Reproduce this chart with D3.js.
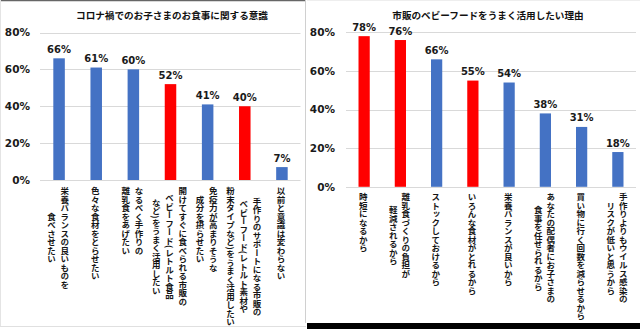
<!DOCTYPE html>
<html><head><meta charset="utf-8">
<script src="https://cdn.jsdelivr.net/npm/d3@7/dist/d3.min.js"></script>
<style>
html,body{margin:0;padding:0;background:#fff;}
svg{display:block;}
</style></head>
<body>
<svg id="chart" width="640" height="329"></svg>
<script>
// ---- Data ----
const leftTitle = "コロナ禍でのお子さまのお食事に関する意識";
const leftCategories = [
  "栄養バランスの良いものを\n食べさせたい",
  "色々な食材をとらせたい",
  "なるべく手作りの\n離乳食をあげたい",
  "開けてすぐに食べられる市販の\nベビーフード(レトルト食品\nなど)をうまく活用したい",
  "免疫力が高まりそうな\n成分を摂らせたい",
  "手作りのサポートになる市販の\nベビーフード(レトルト素材や\n粉末タイプなど)をうまく活用したい",
  "以前と意識は変わらない"
];
const leftValues = [66, 61, 60, 52, 41, 40, 7];
const leftHighlighted = [false, false, false, true, false, true, false];

const rightTitle = "市販のベビーフードをうまく活用したい理由";
const rightCategories = [
  "時短になるから",
  "離乳食づくりの負担が\n軽減されるから",
  "ストックしておけるから",
  "いろんな食材がとれるから",
  "栄養バランスが良いから",
  "あなたの配偶者にお子さまの\n食事を任せられるから",
  "買い物に行く回数を減らせるから",
  "手作りよりもウイルス感染の\nリスクが低いと思うから"
];
const rightValues = [78, 76, 66, 55, 54, 38, 31, 18];
const rightHighlighted = [true, true, false, true, false, false, false, false];

const yTicks = [0, 20, 40, 60, 80];

// ---- Drawing ----
const svg = d3.select("#chart");
const BLUE = "#4472C4", RED = "#FF0000";
const numFont = "'DejaVu Sans', Verdana, sans-serif";
const jpFont = "'Noto Sans CJK JP', sans-serif";

// panel frames
svg.append("rect").attr("x", 0).attr("y", 0).attr("width", 640).attr("height", 329).attr("fill", "#fff");
svg.append("line").attr("x1", 0).attr("x2", 305).attr("y1", 0.5).attr("y2", 0.5).attr("stroke", "#666").attr("stroke-width", 1.5);
svg.append("line").attr("x1", 305.5).attr("x2", 305.5).attr("y1", 0).attr("y2", 323).attr("stroke", "#d0d0d0");
svg.append("line").attr("x1", 0.5).attr("x2", 0.5).attr("y1", 0).attr("y2", 326).attr("stroke", "#e4e4e4");
svg.append("line").attr("x1", 0).attr("x2", 306).attr("y1", 326.5).attr("y2", 326.5).attr("stroke", "#e0e0e0");
svg.append("line").attr("x1", 307).attr("x2", 640).attr("y1", 0.5).attr("y2", 0.5).attr("stroke", "#eee");
svg.append("rect").attr("x", 307).attr("y", 323).attr("width", 333).attr("height", 6).attr("fill", "#000");

function drawChart(cfg) {
  const g = svg.append("g");
  const x = d3.scaleBand().domain(cfg.categories).range([cfg.x0, cfg.x1])
    .paddingInner(0.69).paddingOuter(0.345);
  const y = d3.scaleLinear().domain([0, 80]).range([cfg.yBase, cfg.yTop]);

  // gridlines
  g.selectAll(".grid").data(yTicks).join("line")
    .attr("x1", cfg.gx0).attr("x2", cfg.x1)
    .attr("y1", d => Math.round(y(d)) + 0.5).attr("y2", d => Math.round(y(d)) + 0.5)
    .attr("stroke", "#d9d9d9").attr("stroke-width", 1);

  // y tick labels
  const yAxis = d3.axisLeft(y).tickValues(yTicks).tickFormat(d => d + "%").tickSize(0).tickPadding(0);
  const ax = g.append("g").attr("transform", `translate(${cfg.labelRight},0)`).call(yAxis);
  ax.select(".domain").remove();
  ax.selectAll("text").attr("font-family", numFont).attr("font-weight", "bold")
    .attr("font-size", 10.5).attr("fill", "#1a1a1a");

  // bars
  g.selectAll(".bar").data(cfg.values).join("rect")
    .attr("x", (d, i) => x(cfg.categories[i]))
    .attr("width", x.bandwidth())
    .attr("y", d => y(d))
    .attr("height", d => y(0) - y(d))
    .attr("fill", (d, i) => cfg.highlighted[i] ? RED : BLUE);

  // value labels
  g.selectAll(".val").data(cfg.values).join("text")
    .attr("x", (d, i) => x(cfg.categories[i]) + x.bandwidth() / 2)
    .attr("y", d => y(d) - 5.5)
    .attr("text-anchor", "middle")
    .attr("font-family", numFont).attr("font-weight", "bold").attr("font-size", 10)
    .attr("fill", "#1a1a1a")
    .text(d => d + "%");

  // title
  g.append("text").attr("x", cfg.titleX).attr("y", 19)
    .attr("text-anchor", "middle")
    .attr("font-family", jpFont).attr("font-weight", "bold").attr("font-size", 9.6)
    .attr("fill", "#111").text(cfg.title);

  // vertical category labels
  cfg.categories.forEach((cat, i) => {
    const lines = cat.split("\n");
    const cx = x(cat) + x.bandwidth() / 2 + cfg.labelShift;
    const n = lines.length;
    const texts = lines.map((ln, j) => g.append("text")
      .attr("x", cx + ((n - 1) / 2 - j) * cfg.lineGap)
      .attr("y", 0)
      .style("writing-mode", "vertical-rl")
      .attr("text-anchor", "middle")
      .attr("font-family", jpFont).attr("font-weight", "bold").attr("font-size", 8.5)
      .attr("fill", "#151515").text(ln));
    const maxLen = d3.max(texts, t => t.node().getComputedTextLength());
    texts.forEach(t => t.attr("y", cfg.labelTop + maxLen / 2));
  });
}

drawChart({
  title: leftTitle, categories: leftCategories, values: leftValues, highlighted: leftHighlighted,
  x0: 40.5, x1: 300.5, gx0: 40, yBase: 180, yTop: 32.5, labelRight: 30,
  titleX: 172, labelTop: 187, lineGap: 13.2, labelShift: -1
});
drawChart({
  title: rightTitle, categories: rightCategories, values: rightValues, highlighted: rightHighlighted,
  x0: 346, x1: 636, gx0: 346, yBase: 186.8, yTop: 32.3, labelRight: 335,
  titleX: 488, labelTop: 193, lineGap: 12.5, labelShift: -1
});
</script>
</body></html>
